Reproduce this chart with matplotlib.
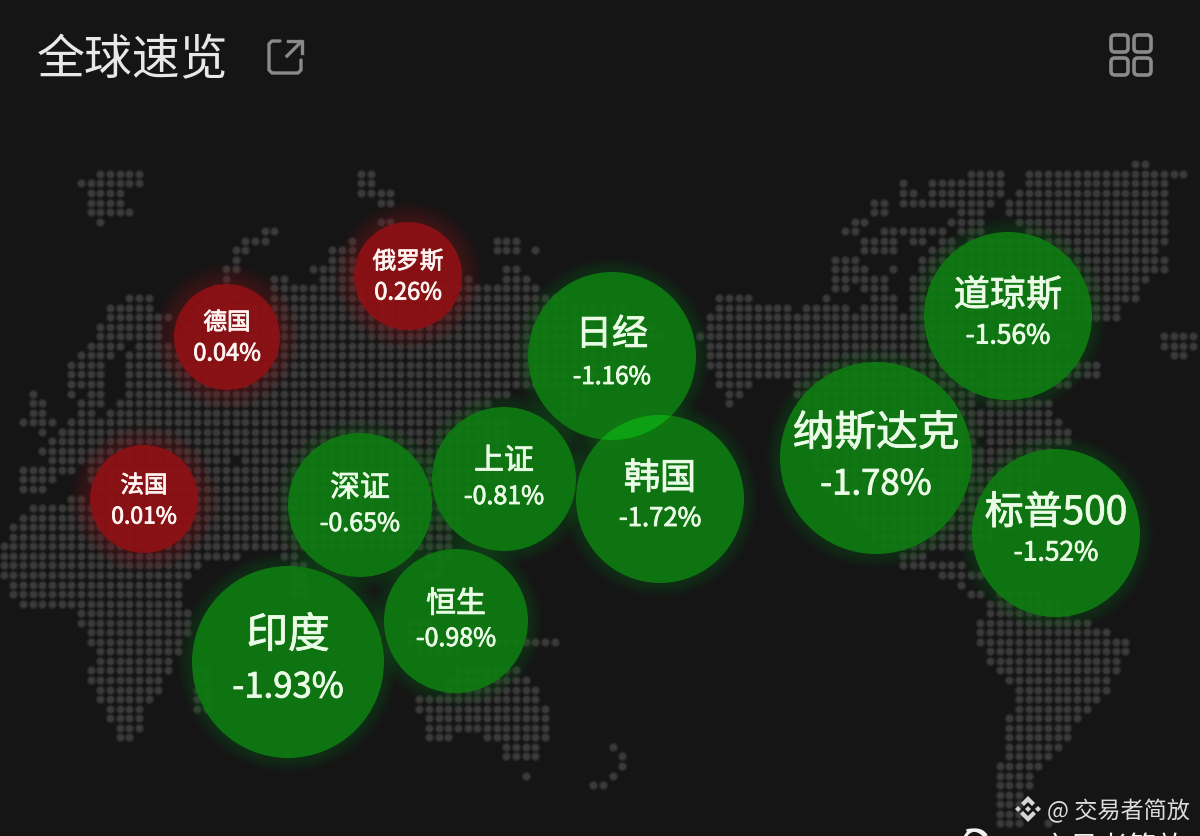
#!/usr/bin/env python3
import matplotlib
matplotlib.use('Agg')
import matplotlib.pyplot as plt
import matplotlib.patheffects as pe
from matplotlib.patches import Circle, FancyBboxPatch, Arc, Polygon

plt.rcParams['font.family'] = ['Noto Sans CJK SC', 'DejaVu Sans']

TITLE = '全球速览'
WATERMARK = '@ 交易者简放'
WATERMARK_CUT = '交易者简放'

names = ['俄罗斯', '德国', '法国', '深证', '上证', '恒生', '印度', '日经', '韩国', '纳斯达克', '道琼斯', '标普500']
changes = ['0.26%', '0.04%', '0.01%', '-0.65%', '-0.81%', '-0.98%', '-1.93%', '-1.16%', '-1.72%', '-1.78%', '-1.56%', '-1.52%']

# bubble layout, in pixels of the 1200x836 picture
centre_x = [408, 227, 144, 360, 504, 456, 288, 612, 660, 876, 1008, 1056]
centre_y = [276, 337, 499, 505, 479, 621, 662, 356, 499, 458, 316, 533]
radius = [54, 53, 54, 72, 72, 72, 96, 84, 84, 96, 84, 84]
name_y = [262, 323, 486, 488, 461, 604, 636, 335, 479, 434, 296, 513]
change_y = [293, 354, 517, 524, 497, 639, 688, 377, 519, 485, 336, 553]
name_size = [17, 17, 17, 21.5, 21.5, 21.5, 30, 26, 26, 30, 26, 28]
change_size = [17, 17, 16.5, 18, 18, 18, 25, 17.5, 18.5, 25, 19, 19]

# dotted world map: row number -> runs of filled columns
land = {
    0: [(117, 118)],
    1: [(10, 14), (37, 38), (100, 103), (106, 122)],
    2: [(8, 14), (37, 38), (93, 93), (96, 103), (106, 120)],
    3: [(9, 12), (37, 40), (93, 94), (96, 103), (105, 120)],
    4: [(9, 12), (39, 40), (90, 91), (93, 94), (95, 102), (104, 120)],
    5: [(9, 13), (90, 91), (99, 101), (104, 120)],
    6: [(10, 10), (39, 40), (88, 89), (98, 101), (105, 120)],
    7: [(27, 28), (87, 88), (91, 97), (99, 101), (106, 120)],
    8: [(25, 27), (36, 36), (51, 53), (89, 92), (94, 95), (97, 98), (100, 120)],
    9: [(24, 25), (34, 36), (51, 53), (55, 55), (89, 92), (96, 119)],
    10: [(24, 24), (34, 36), (86, 88), (95, 120)],
    11: [(23, 24), (32, 36), (52, 53), (86, 89), (92, 92), (95, 120)],
    12: [(23, 23), (28, 29), (33, 36), (48, 48), (52, 54), (86, 91), (94, 118)],
    13: [(22, 23), (28, 55), (86, 87), (89, 91), (94, 117)],
    14: [(13, 15), (21, 24), (28, 58), (74, 77), (85, 85), (90, 92), (94, 117)],
    15: [(11, 15), (20, 64), (74, 81), (83, 87), (89, 92), (94, 115)],
    16: [(11, 17), (20, 65), (73, 115)],
    17: [(10, 16), (19, 67), (73, 108)],
    18: [(10, 16), (19, 68), (72, 110), (120, 123)],
    19: [(9, 12), (14, 66), (73, 110), (120, 123)],
    20: [(8, 11), (13, 65), (73, 108), (121, 122)],
    21: [(7, 10), (13, 63), (73, 113)],
    22: [(7, 10), (13, 62), (74, 100), (102, 113)],
    23: [(7, 10), (13, 60), (74, 77), (82, 110)],
    24: [(3, 3), (7, 7), (9, 10), (13, 52), (58, 60), (75, 76), (82, 100), (102, 106)],
    25: [(3, 4), (8, 10), (12, 50), (58, 60), (75, 75), (83, 100), (102, 108)],
    26: [(3, 4), (8, 9), (11, 49), (58, 59), (83, 108)],
    27: [(2, 5), (7, 52), (83, 109)],
    28: [(4, 4), (6, 52), (84, 110)],
    29: [(5, 52), (84, 100), (102, 110)],
    30: [(4, 52), (84, 108)],
    31: [(5, 23), (25, 52), (84, 108)],
    32: [(2, 7), (9, 52), (84, 107)],
    33: [(2, 5), (9, 52), (85, 107)],
    34: [(2, 4), (10, 48), (85, 106)],
    35: [(7, 8), (10, 48), (86, 106)],
    36: [(3, 48), (87, 105)],
    37: [(2, 47), (88, 105)],
    38: [(1, 47), (89, 104)],
    39: [(1, 46), (90, 102)],
    40: [(0, 46), (91, 100)],
    41: [(0, 24), (29, 30), (44, 46), (93, 95)],
    42: [(0, 20), (30, 31), (45, 45), (93, 99)],
    43: [(0, 19), (30, 31), (44, 45), (97, 101)],
    44: [(1, 18), (30, 31), (99, 99)],
    45: [(1, 18), (30, 31), (100, 101), (103, 107)],
    46: [(2, 18), (102, 109)],
    47: [(8, 19), (102, 110)],
    48: [(8, 19), (42, 44), (101, 112)],
    49: [(9, 19), (42, 44), (101, 114)],
    50: [(9, 18), (42, 57), (101, 116)],
    51: [(10, 18), (43, 47), (102, 116)],
    52: [(10, 17), (102, 115)],
    53: [(9, 17), (20, 21), (47, 53), (103, 115)],
    54: [(9, 16), (20, 21), (46, 54), (104, 114)],
    55: [(10, 16), (20, 21), (46, 55), (105, 114)],
    56: [(10, 15), (20, 21), (43, 55), (105, 113)],
    57: [(11, 14), (20, 21), (43, 56), (105, 112)],
    58: [(11, 14), (44, 56), (104, 111)],
    59: [(12, 14), (44, 56), (104, 110)],
    60: [(12, 13), (44, 46), (50, 56), (104, 110)],
    61: [(52, 55), (63, 63), (104, 109)],
    62: [(52, 55), (64, 64), (104, 108)],
    63: [(64, 64), (103, 107)],
    64: [(54, 54), (63, 63), (103, 106)],
    65: [(61, 62), (103, 106)],
    66: [(103, 105)],
    67: [(103, 105)],
    68: [(103, 105)],
    69: [(103, 105), (108, 108)],
}


def plotMap(ax):
    xs = []
    ys = []
    for row, runs in land.items():
        for first, last in runs:
            for col in range(first, last + 1):
                xs.append(3.6 + col * 9.67)
                ys.append(164.3 + row * 9.55)
    # soft edge under each dot, the source is a blurry screenshot
    ax.scatter(xs, ys, s=48, color='#262626', linewidths=0, zorder=1)
    ax.scatter(xs, ys, s=22, color='#3a3a3a', linewidths=0, zorder=1.5)


def plotBubbles(ax):
    for i in range(len(names)):
        up = not changes[i].startswith('-')
        fill = '#8f1013' if up else '#0e7c11'
        glow = '#96141a' if up else '#0f7016'
        steps = 9 if up else 6
        reach = 20 if up else 14
        for k in range(steps, 0, -1):
            ax.add_patch(Circle((centre_x[i], centre_y[i]), radius[i] + reach * k / steps,
                                color=glow, alpha=0.04 if up else 0.05, lw=0, zorder=2))
        ax.add_patch(Circle((centre_x[i], centre_y[i]), radius[i], color=fill, alpha=0.9, lw=0, zorder=3))

    # the brighter lens where two bubbles overlap
    a = names.index('日经')
    b = names.index('韩国')
    lens = Circle((centre_x[b], centre_y[b]), radius[b], color='#0ca012', lw=0, zorder=4)
    ax.add_patch(lens)
    lens.set_clip_path(Circle((centre_x[a], centre_y[a]), radius[a], transform=ax.transData))

    for i in range(len(names)):
        up = not changes[i].startswith('-')
        colour = '#fff4f2' if up else '#eafbe6'
        heavy = [pe.withStroke(linewidth=0.6, foreground=colour)]
        ax.text(centre_x[i], name_y[i], names[i], color=colour, fontsize=name_size[i],
                ha='center', va='center', zorder=5, path_effects=heavy)
        ax.text(centre_x[i], change_y[i], changes[i], color=colour, fontsize=change_size[i],
                ha='center', va='center', zorder=5, path_effects=heavy)


def plotHeader(ax):
    ax.text(37, 60, TITLE, color='#e8e8e8', fontsize=34.5, ha='left', va='center', zorder=5)

    grey = '#8a8a8a'
    # share icon
    ax.plot([280, 272, 269, 269, 272, 298, 301, 301], [41, 41, 44, 70, 73, 73, 70, 60],
            color=grey, lw=2.4, solid_capstyle='round', zorder=5)
    ax.plot([287, 301], [56, 42], color=grey, lw=2.4, zorder=5)
    ax.plot([288, 302, 302], [41, 41, 53], color=grey, lw=2.4, zorder=5)

    # grid icon
    for x in [1111, 1134]:
        for y in [35, 58]:
            ax.add_patch(FancyBboxPatch((x, y), 17, 17, boxstyle='round,pad=0,rounding_size=4',
                                        fc='none', ec=grey, lw=2.6, zorder=5))


def plotWatermark(ax):
    logo = '#d6d6d6'
    cx, cy = 1028, 809
    ax.add_patch(Polygon([[cx, cy - 13], [cx + 7, cy - 6], [cx + 4, cy - 3], [cx, cy - 7], [cx - 4, cy - 3], [cx - 7, cy - 6]],
                         fc=logo, ec='none', zorder=8))
    ax.add_patch(Polygon([[cx, cy + 13], [cx + 8, cy + 5], [cx + 5, cy + 2], [cx, cy + 7], [cx - 5, cy + 2], [cx - 8, cy + 5]],
                         fc=logo, ec='none', zorder=8))
    ax.add_patch(Polygon([[cx, cy - 3], [cx + 3, cy], [cx, cy + 3], [cx - 3, cy]], fc=logo, ec='none', zorder=8))
    ax.add_patch(Polygon([[cx - 13, cy], [cx - 10, cy - 3], [cx - 7, cy], [cx - 10, cy + 3]], fc=logo, ec='none', zorder=8))
    ax.add_patch(Polygon([[cx + 13, cy], [cx + 10, cy - 3], [cx + 7, cy], [cx + 10, cy + 3]], fc=logo, ec='none', zorder=8))
    ax.text(1047, 811, WATERMARK, color='#dcdcdc', fontsize=16.7, ha='left', va='center', zorder=8)
    # second line, cut off by the bottom of the picture
    ax.text(1041, 849, WATERMARK_CUT, color='#f2f2f2', fontsize=21, ha='left', va='center', zorder=8, clip_on=True)
    ax.add_patch(Arc((976, 842), 24, 24, theta1=200, theta2=330, color='#f2f2f2', lw=2.2, zorder=8))
    ax.add_patch(Arc((972, 846), 32, 32, theta1=250, theta2=340, color='#f2f2f2', lw=2.2, zorder=8))


def main():
    fig = plt.figure(figsize=(12, 8.36), dpi=100, facecolor='#151515')
    ax = fig.add_axes([0, 0, 1, 1])
    ax.set_xlim(0, 1200)
    ax.set_ylim(836, 0)
    ax.set_facecolor('#151515')
    ax.axis('off')

    plotMap(ax)
    plotBubbles(ax)
    plotHeader(ax)
    plotWatermark(ax)

    fig.savefig('out.png', dpi=100, facecolor=fig.get_facecolor())


if __name__ == "__main__":
    main()
